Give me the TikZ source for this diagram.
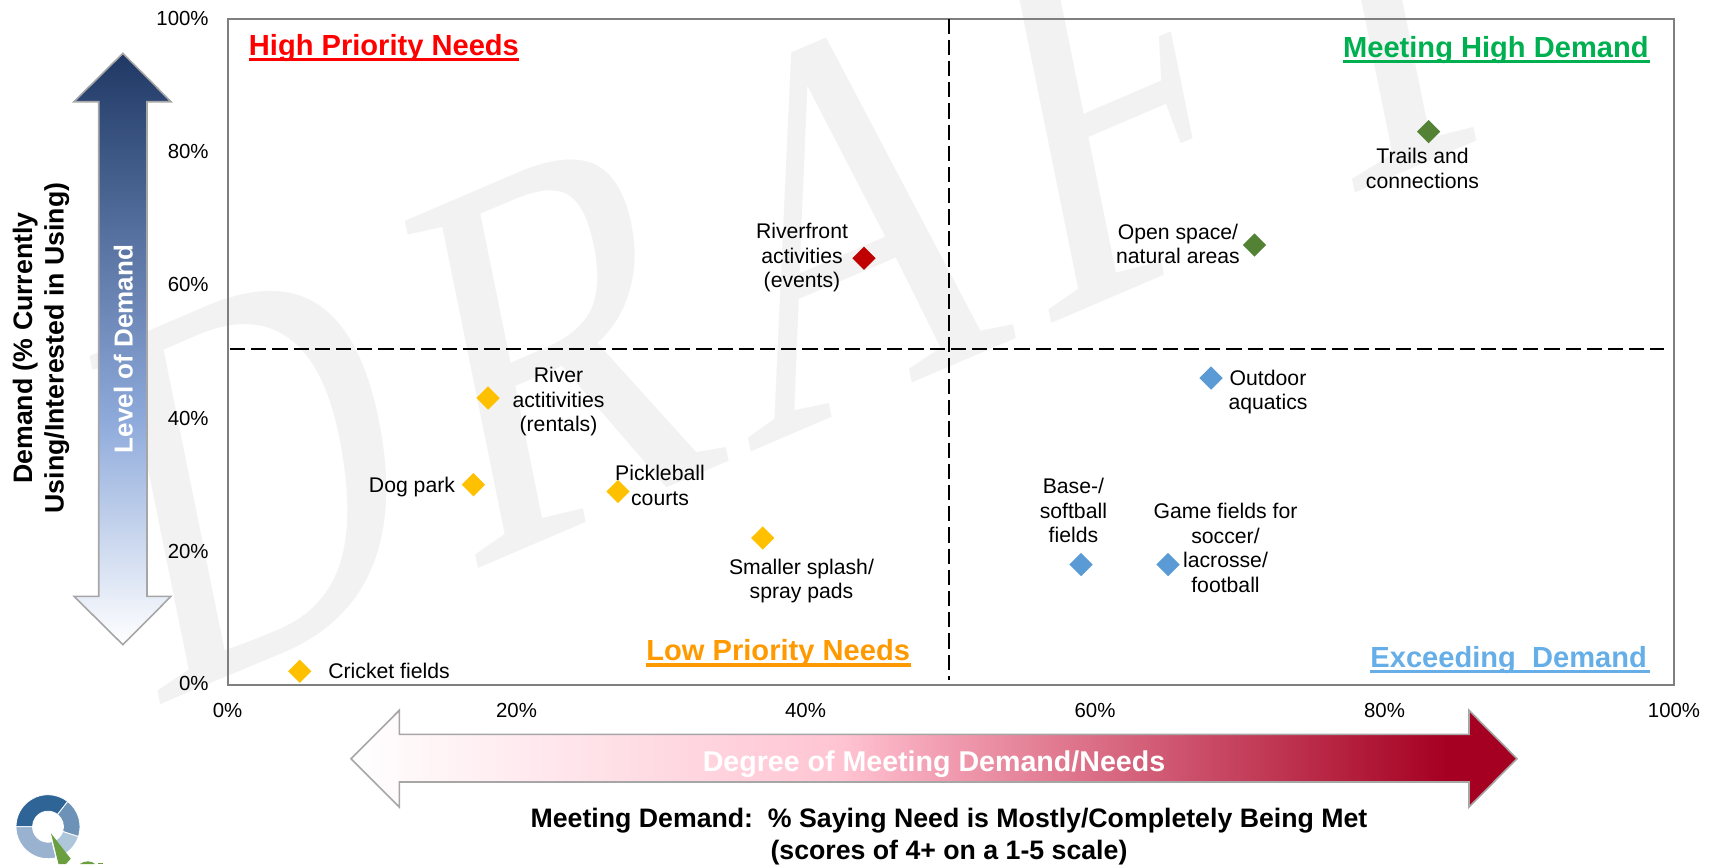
\documentclass[tikz,border=0pt]{standalone}
\usepackage{fontspec}
\setmainfont{Liberation Sans}
\newfontfamily\wmfont{Liberation Serif}
\usetikzlibrary{shapes.geometric}
\definecolor{framegray}{HTML}{7F7F7F}
\definecolor{arrowgray}{HTML}{A6A6A6}
\definecolor{wm}{HTML}{F2F2F2}
\definecolor{dgreen}{HTML}{548235}
\definecolor{dred}{HTML}{C00000}
\definecolor{dyellow}{HTML}{FFC000}
\definecolor{dblue}{HTML}{5B9BD5}
\definecolor{tred}{HTML}{FF0000}
\definecolor{tgreen}{HTML}{00B050}
\definecolor{torange}{HTML}{FF9900}
\definecolor{tblue}{HTML}{66AEE8}
\definecolor{logogreen}{HTML}{6A9E3E}
\definecolor{demandmid}{HTML}{8EAADB}
\definecolor{demandtop}{HTML}{1F3864}
\definecolor{meetpink}{HTML}{FFC4D2}
\definecolor{meetrose}{HTML}{F3A0B4}
\definecolor{meetdark}{HTML}{A50021}
\pgfdeclareverticalshading{demandshade}{100bp}{color(0bp)=(white);color(25bp)=(white);color(44bp)=(demandmid);color(75bp)=(demandtop);color(100bp)=(demandtop)}
\pgfdeclarehorizontalshading{meetshade}{100bp}{color(0bp)=(white);color(25bp)=(white);color(46bp)=(meetpink);color(50bp)=(meetrose);color(72bp)=(meetdark);color(100bp)=(meetdark)}
\newcommand\lblfont{\fontsize{10.6}{12.25}\selectfont}
\newcommand\tickfont{\fontsize{10.2}{12}\selectfont}
\newcommand\ttlfont{\fontsize{14.55}{17}\bfseries\selectfont}
\newcommand\axfont{\fontsize{13.35}{15.7}\bfseries\selectfont}
\tikzset{
  lbl/.style={inner sep=0pt,align=center,font=\lblfont,text=black},
  tickx/.style={inner sep=0pt,font=\tickfont,anchor=center},
  ticky/.style={inner sep=0pt,font=\tickfont,anchor=east},
  ttl/.style={inner sep=0pt,font=\ttlfont,anchor=west},
  mk/.style={diamond,aspect=1,minimum size=11.8pt,inner sep=0pt,fill=#1},
  ul/.style={line width=1.8pt,#1},
  guide/.style={black,line width=1pt,dash pattern=on 7.6pt off 3pt},
  bigarrow/.style={draw=arrowgray,line width=0.8pt,line join=miter},
  axlbl/.style={inner sep=0pt,align=center,font=\axfont},
  wmletter/.style={transform shape,anchor=base west,inner sep=0pt,text=wm,font=\fontsize{100}{100}\wmfont\selectfont}
}
\begin{document}
\begin{tikzpicture}[x=0.5pt,y=-0.5pt]
\useasboundingbox (0,0) rectangle (1719,864);
% watermark
\begin{scope}
\clip (0,0) rectangle (1719,864);
\begin{scope}[shift={(162,704)},cm={2.115,0.905,-0.54,2.66,(0,0)},x=1pt,y=1pt]
\foreach \lt/\ox/\sx in {D/-3.2/.92,R/71.3/.94,A/138.3/.889,F/206.7/.95,T/267.4/.95}{
  \begin{scope}[shift={(\ox,0)},xscale=\sx]
  \node[wmletter] (wm\lt) at (0,0) {\lt};
  \end{scope}
}
\end{scope}
\end{scope}
% frame
\draw[framegray,line width=1pt] (227.5,18.5) rectangle (1674,684.5);
% guides
\coordinate (hl) at (230,349); \coordinate (hr) at (1664,349);
\coordinate (vt) at (949.4,18.5); \coordinate (vb) at (949.4,680);
\draw[guide] (hl) -- (hr);
\draw[guide] (vt) -- (vb);
% ticks
\node[ticky] (y0) at (209,683.5) {0\%};
\node[ticky] (y20) at (209,551) {20\%};
\node[ticky] (y40) at (209,418) {40\%};
\node[ticky] (y60) at (209,284.5) {60\%};
\node[ticky] (y80) at (209,151) {80\%};
\node[ticky] (y100) at (209,18) {100\%};
\node[tickx] (x0) at (227.5,710) {0\%};
\node[tickx] (x20) at (516.5,710) {20\%};
\node[tickx] (x40) at (805.5,710) {40\%};
\node[tickx] (x60) at (1095,710) {60\%};
\node[tickx] (x80) at (1384.5,710) {80\%};
\node[tickx] (x100) at (1674,710) {100\%};
% quadrant titles
\node[ttl,text=tred] (t1) at (248.5,48) {High Priority Needs};
\draw[ul=tred] (248.5,59.5) -- (518.5,59.5);
\node[ttl,text=tgreen] (t2) at (1342.7,50) {Meeting High Demand};
\draw[ul=tgreen] (1342.7,61.5) -- (1650,61.5);
\node[ttl,text=torange] (t3) at (646,653) {Low Priority Needs};
\draw[ul=torange] (646,665) -- (910.5,665);
\node[ttl,text=tblue] (t4) at (1370,660) {Exceeding\ \ Demand};
\draw[ul=tblue] (1370,671.5) -- (1650,671.5);
% markers
\node[mk=dgreen] (m1) at (1428.6,131.7) {};
\node[mk=dgreen] (m2) at (1254.5,244.9) {};
\node[mk=dred] (m3) at (864,258.3) {};
\node[mk=dyellow] (m4) at (488,398.1) {};
\node[mk=dyellow] (m5) at (473.4,484.7) {};
\node[mk=dyellow] (m6) at (618,491.4) {};
\node[mk=dyellow] (m7) at (762.7,538) {};
\node[mk=dyellow] (m8) at (299.8,671.2) {};
\node[mk=dblue] (m9) at (1211,378.1) {};
\node[mk=dblue] (m10) at (1081,564.6) {};
\node[mk=dblue] (m11) at (1168,564.6) {};
% labels
\node[lbl] (l1) at (1422.5,168.5) {Trails and\\connections};
\node[lbl] (l2) at (1178,244) {Open space/\\natural areas};
\node[lbl] (l3) at (802,258) {Riverfront\\activities\\(events)};
\node[lbl] (l4) at (558.5,401.5) {River\\actitivities\\(rentals)};
\node[lbl] (l5) at (412,487) {Dog park};
\node[lbl] (l6) at (660,485.5) {Pickleball\\courts};
\node[lbl] (l7) at (801.5,581) {Smaller splash/\\spray pads};
\node[lbl] (l8) at (389,671.3) {Cricket fields};
\node[lbl] (l9) at (1268,392) {Outdoor\\aquatics};
\node[lbl] (l10) at (1073.4,510.5) {Base-/\\softball\\fields};
\node[lbl] (l11) at (1225.5,548) {Game fields for\\soccer/\\lacrosse/\\football};
% vertical arrow
\shade[shading=demandshade,bigarrow] (122.9,53.3) -- (171,101.7) -- (147,101.7) -- (147,596.3) -- (171,596.3) -- (122.9,644.7) -- (74,596.3) -- (98.7,596.3) -- (98.7,101.7) -- (74,101.7) -- cycle;
\node[inner sep=0pt,rotate=90,text=white,font=\fontsize{13}{15}\bfseries\selectfont] (demandarrow) at (123.4,349) {Level of Demand};
% horizontal arrow
\shade[shading=meetshade,bigarrow] (351,758.7) -- (399.3,710.3) -- (399.3,734.3) -- (1469,734.3) -- (1469,710.3) -- (1517,758.7) -- (1469,807) -- (1469,782) -- (399.3,782) -- (399.3,807) -- cycle;
\node[inner sep=0pt,text=white,font=\fontsize{14.3}{16}\bfseries\selectfont] (meetarrow) at (934,764) {Degree of Meeting Demand/Needs};
% axis titles
\node[axlbl,rotate=90] (ya) at (41,348) {Demand (\% Currently\\Using/Interested in Using)};
\node[axlbl] (xa) at (949,836.5) {Meeting Demand:\ \ \% Saying Need is Mostly/Completely Being Met\\(scores of 4+ on a 1-5 scale)};
% logo
\begin{scope}
\clip (0,0) rectangle (1719,864);
\begin{scope}[shift={(48,826.7)},x=0.5pt,y=0.5pt]
\foreach \aa/\ab/\cc in {180/52/2F6596,52/-18/6C92B8,-18/-72/AEC6DA,-72/-180/98B2CF}{
  \definecolor{logoc}{HTML}{\cc}
  \fill[logoc,draw=white,line width=0.4pt] (\aa:32) arc[start angle=\aa,end angle=\ab,radius=32] -- (\ab:15.5) arc[start angle=\ab,end angle=\aa,radius=15.5] -- cycle;
}
\end{scope}
\fill[white] (49,831) -- (57,864) -- (74,864) -- cycle;
\fill[logogreen] (51,833.3) -- (58.5,864) -- (66,864) -- (70.7,858.7) -- cycle;
\fill[logogreen] (80,864) .. controls (84,860.5) and (92,860.5) .. (95,864) -- cycle;
\fill[logogreen] (98,864) -- (98,862.5) -- (103,862.5) -- (103,864) -- cycle;
\end{scope}
\end{tikzpicture}
\end{document}
